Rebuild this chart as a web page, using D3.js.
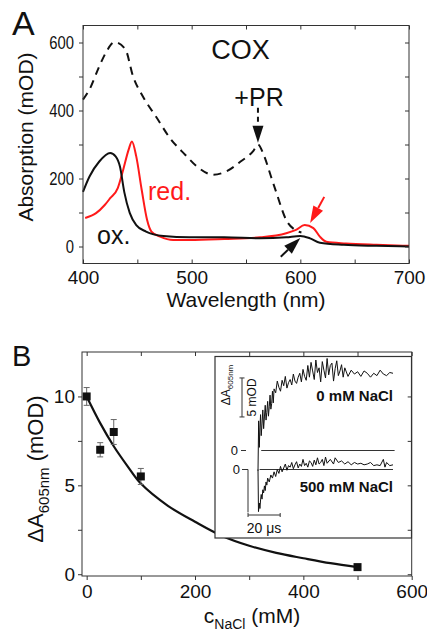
<!DOCTYPE html>
<html>
<head>
<meta charset="utf-8">
<script src="https://d3js.org/d3.v7.min.js"></script>
<style>
  body { margin: 0; background: #fff; }
  svg { font-family: "Liberation Sans", Arial, sans-serif; }
</style>
</head>
<body>
<svg id="fig" width="427" height="635"></svg>
<script>
// ---- panel A: absorption spectra [wavelength nm, mOD] ----
const specPR = [[400,432],[406,462],[415,530],[421,570],[429,601],[439,580],[446,501],[455,442],[468,378],[480,319],[494,270],[505,235],[520,211],[532,221],[545,250],[557,282],[561,300],[566,272],[573,206],[578,158],[587,78],[595,49],[601,41]];
const specOx = [[400,161],[406,206],[415,250],[425,275],[430,265],[434,235],[438,160],[443,99],[449,63],[458,44],[474,31],[498,27],[530,27],[563,24],[587,27],[600,31],[609,24],[618,11],[640,5],[670,2],[700,0]];
const specRed = [[402,84],[412,98],[420,122],[425,142],[432,172],[437,226],[442,285],[445,309],[449,265],[454,167],[459,78],[463,44],[471,29],[483,19],[498,19],[530,22],[563,27],[587,39],[596,49],[604,63],[612,54],[618,29],[624,14],[642,9],[670,5],[700,2]];
const aXticks = [400, 500, 600, 700];
const aXminor = [450, 550, 650];
const aYticks = [0, 200, 400, 600];
const aYminor = [100, 300, 500];

// ---- panel B: amplitude vs NaCl ----
const cNaCl = [0, 25, 50, 100, 500];
const dA605 = [10.0, 7.0, 8.0, 5.5, 0.4];
const dAerr = [0.5, 0.4, 0.7, 0.45, 0.1];
const fitC = [0, 25, 50, 75, 100, 150, 200, 250, 300, 350, 400, 450, 500];
const fitA = [10, 8.5, 7.2, 6.1, 5.1, 3.85, 2.95, 2.15, 1.6, 1.2, 0.9, 0.62, 0.4];
const bXticks = [0, 200, 400, 600];
const bXminor = [100, 300, 500];
const bYticks = [0, 5, 10];
const bYminor = [2.5, 7.5];

// ---- inset: transients [time us, mOD] ----
const t0mM = [0,0.4,0.8,1.2,1.6,2,2.5,3,3.5,4,4.5,5,5.5,6,6.5,7,7.5,8,8.5,9,9.5,10,11,12,13,14,15,16,17,18,19,20,21,22,23,24,25,26,27,28,29,30,31,32,33,34,35,36,37,38,39,40,41,42,43,44,45,46,47,48,49,50,51,52,53,54,56,58,60,62,64,66,68,70,72,74,76,78,80,82,84];
const v0mM = [-2.6,3.8,0.4,2.9,4.6,1.9,3.4,5.2,2.8,4.3,5.8,3.9,4.9,6.3,4.4,5.6,7.1,5.3,6.0,7.6,6.1,7.9,
  7.4,8.9,8.1,7.6,9.0,8.3,9.5,8.0,8.7,9.1,8.4,9.8,8.9,8.6,9.4,9.9,8.8,10.4,9.5,9.0,10.9,9.4,11.3,10.2,9.1,11.6,10.0,10.6,8.8,11.4,10.3,9.3,11.8,9.7,10.9,11.2,8.9,10.5,11.5,9.6,10.2,11.0,9.4,10.6,
  9.5,10.3,9.8,10.1,9.5,10.2,9.9,9.4,9.9,9.6,10.3,9.8,9.6,10.0,9.9];
const t500mM = [0,0.3,0.8,1.2,1.6,2,2.5,3,3.5,4,4.5,5,5.5,6,7,8,9,10,11,12,13,14,15,16,17,18,19,20,21,22,23,24,25,26,27,28,29,30,31,32,33,34,35,36,37,38,39,40,41,42,43,45,47,48,50,52,54,56,58,60,62,64,66,68,70,72,74,76,78,79,80,82,84];
const v500mM = [0,-5.4,-4.3,-5.0,-3.9,-3.2,-3.8,-2.6,-3.0,-2.1,-2.7,-1.6,-2.0,-1.1,
  -1.6,-0.7,-1.1,-0.3,-0.9,0.0,-0.5,0.4,-0.3,0.2,0.7,-0.1,0.5,0.3,0.9,0.1,0.6,1.0,0.2,0.7,0.4,1.3,0.5,0.8,0.3,1.1,0.9,0.4,1.2,0.6,1.5,0.7,0.9,1.3,0.5,1.6,0.8,
  1.3,0.7,1.5,0.9,1.1,0.7,1.0,0.6,0.9,0.7,0.8,0.6,0.7,0.9,0.5,0.6,0.5,1.3,0.3,0.9,0.5,0.6];

const svg = d3.select("#fig");
const ink = "#111";

// draws a boxed frame with ticks on all four sides
function frame(g, x, y, o) {
  const [x0, x1] = x.range();
  const [y0, y1] = y.range();
  g.append("rect").attr("x", x0).attr("y", y1).attr("width", x1 - x0).attr("height", y0 - y1)
    .attr("fill", "none").attr("stroke", "#333").attr("stroke-width", 1);
  const allX = o.xt.concat(o.xm), allY = o.yt.concat(o.ym);
  const clean = s => { s.select(".domain").remove(); s.attr("font-family", null).attr("font-size", null); };
  // bottom
  g.append("g").attr("transform", `translate(0,${y0})`)
    .call(d3.axisBottom(x).tickValues(allX).tickSize(o.bottomTick).tickFormat("")).call(clean);
  g.append("g").attr("transform", `translate(0,${y0})`)
    .call(d3.axisBottom(x).tickValues(o.xt).tickSize(0).tickPadding(o.xpad).tickFormat(d3.format("d"))).call(clean)
    .selectAll("text").attr("font-size", o.fs).attr("fill", ink);
  // top (inward)
  g.append("g").attr("transform", `translate(0,${y1})`)
    .call(d3.axisTop(x).tickValues(allX).tickSize(-4).tickFormat("")).call(clean);
  // left
  g.append("g").attr("transform", `translate(${x0},0)`)
    .call(d3.axisLeft(y).tickValues(allY).tickSize(4).tickFormat("")).call(clean);
  const sx = o.yScaleX || 1;
  g.append("g").attr("transform", `translate(${x0},0)`)
    .call(d3.axisLeft(y).tickValues(o.yt).tickSize(0).tickPadding(o.ypad).tickFormat(d3.format("d"))).call(clean)
    .selectAll("text").attr("font-size", o.fs).attr("fill", ink)
    .attr("x", -o.ypad / sx).attr("transform", `scale(${sx},1)`);
  // right (inward)
  g.append("g").attr("transform", `translate(${x1},0)`)
    .call(d3.axisRight(y).tickValues(allY).tickSize(-4).tickFormat("")).call(clean);
  g.selectAll(".tick line").attr("stroke", "#333");
}

// ================= panel A =================
const xA = d3.scaleLinear().domain([400, 700]).range([83, 409]);
const yA = d3.scaleLinear().domain([-50, 650]).range([263.5, 25.5]);
const gA = svg.append("g");
const lineA = d3.line().x(d => xA(d[0])).y(d => yA(d[1])).curve(d3.curveMonotoneX);

gA.append("path").attr("d", lineA(specPR)).attr("fill", "none").attr("stroke", ink)
  .attr("stroke-width", 2).attr("stroke-dasharray", "8,6");
gA.append("path").attr("d", lineA(specRed)).attr("fill", "none").attr("stroke", "#ff1a1a").attr("stroke-width", 2);
gA.append("path").attr("d", lineA(specOx)).attr("fill", "none").attr("stroke", ink).attr("stroke-width", 2);

frame(gA, xA, yA, { xt: aXticks, xm: aXminor, yt: aYticks, ym: aYminor, bottomTick: -4, fs: 19, xpad: 7, ypad: 9, yScaleX: 0.78 });

// arrows
function arrow(g, x1, y1, x2, y2, col, dash) {
  const ang = Math.atan2(y2 - y1, x2 - x1), L = 17, W = 5.5;
  const bx = x2 - L * Math.cos(ang), by = y2 - L * Math.sin(ang);
  g.append("line").attr("x1", x1).attr("y1", y1).attr("x2", bx).attr("y2", by)
    .attr("stroke", col).attr("stroke-width", 2).attr("stroke-dasharray", dash || null);
  const px = -Math.sin(ang) * W, py = Math.cos(ang) * W;
  g.append("path").attr("d", `M${x2},${y2}L${bx + px},${by + py}L${bx - px},${by - py}Z`).attr("fill", col);
}
arrow(gA, xA(561), yA(408), xA(561), yA(305), ink, "5,4");
arrow(gA, xA(622), yA(146), xA(609), yA(69), "#ff1a1a");
arrow(gA, xA(582), yA(-30), xA(600), yA(25), ink);

gA.append("text").attr("x", 12).attr("y", 35).attr("font-size", 34).attr("fill", ink).text("A");
gA.append("text").attr("x", xA(545)).attr("y", 59).attr("text-anchor", "middle").attr("font-size", 27).attr("fill", ink).text("COX");
gA.append("text").attr("x", xA(562)).attr("y", 106).attr("text-anchor", "middle").attr("font-size", 25).attr("fill", ink).text("+PR");
gA.append("text").attr("x", 148).attr("y", 200).attr("font-size", 25).attr("fill", "#ff1a1a").text("red.");
gA.append("text").attr("x", 97).attr("y", 244).attr("font-size", 25).attr("fill", ink).text("ox.");
gA.append("text").attr("x", 246).attr("y", 307).attr("text-anchor", "middle").attr("font-size", 21).attr("fill", ink).text("Wavelength (nm)");
gA.append("text").attr("transform", "translate(33,137) rotate(-90)").attr("text-anchor", "middle")
  .attr("font-size", 21).attr("fill", ink).text("Absorption (mOD)");

// ================= panel B =================
const xB = d3.scaleLinear().domain([-8.6, 600]).range([82, 411.7]);
const yB = d3.scaleLinear().domain([-0.1, 12.5]).range([576, 352]);
const gB = svg.append("g");

const fitLine = d3.line().x(d => xB(d[0])).y(d => yB(d[1])).curve(d3.curveCatmullRom);
gB.append("path").attr("d", fitLine(fitC.map((c, i) => [c, fitA[i]])))
  .attr("fill", "none").attr("stroke", ink).attr("stroke-width", 2.2);

const pts = cNaCl.map((c, i) => ({ c, a: dA605[i], e: dAerr[i] }));
const eb = gB.append("g").attr("stroke", "#666").attr("stroke-width", 1);
pts.forEach(p => {
  eb.append("line").attr("x1", xB(p.c)).attr("x2", xB(p.c)).attr("y1", yB(p.a - p.e)).attr("y2", yB(p.a + p.e));
  [p.a - p.e, p.a + p.e].forEach(v => eb.append("line").attr("x1", xB(p.c) - 3).attr("x2", xB(p.c) + 3).attr("y1", yB(v)).attr("y2", yB(v)));
});
gB.selectAll("rect.pt").data(pts).enter().append("rect").attr("class", "pt")
  .attr("x", d => xB(d.c) - 4).attr("y", d => yB(d.a) - 4).attr("width", 8).attr("height", 8).attr("fill", ink);

// inset
const gI = gB.append("g");
gI.append("rect").attr("x", 215).attr("y", 356.5).attr("width", 196.5).attr("height", 181.5)
  .attr("fill", "#fff").attr("stroke", "#333").attr("stroke-width", 1.2);
const tx = d3.scaleLinear().domain([0, 84]).range([258, 393]);
const vy1 = d3.scaleLinear().domain([0, 10]).range([450.5, 372.5]);
const vy2 = d3.scaleLinear().domain([0, 10]).range([469.5, 391.5]);
// baselines
gI.append("line").attr("x1", tx(2)).attr("x2", tx(85)).attr("y1", vy1(0)).attr("y2", vy1(0)).attr("stroke", "#333").attr("stroke-width", 1.2);
gI.append("line").attr("x1", tx(1)).attr("x2", tx(84)).attr("y1", vy2(0)).attr("y2", vy2(0)).attr("stroke", "#333").attr("stroke-width", 1.2);
const tr1 = d3.line().x((d, i) => tx(t0mM[i])).y(d => vy1(d));
const tr2 = d3.line().x((d, i) => tx(t500mM[i])).y(d => vy2(d));
gI.append("path").attr("d", tr1(v0mM)).attr("fill", "none").attr("stroke", ink).attr("stroke-width", 1);
gI.append("path").attr("d", tr2(v500mM)).attr("fill", "none").attr("stroke", ink).attr("stroke-width", 1);
// zero markers and scale bars
gI.append("text").attr("x", 238).attr("y", vy1(0) + 4.5).attr("text-anchor", "end").attr("font-size", 13).attr("fill", ink).text("0");
gI.append("line").attr("x1", 241).attr("x2", 246).attr("y1", vy1(0)).attr("y2", vy1(0)).attr("stroke", "#333");
gI.append("text").attr("x", 240).attr("y", vy2(0) + 4.5).attr("text-anchor", "end").attr("font-size", 13).attr("fill", ink).text("0");
gI.append("path").attr("d", `M242,${vy2(0)}H248V${vy2(-5.5)}`).attr("fill", "none").attr("stroke", "#333");
const sbx = 242;
gI.append("path").attr("d", `M${sbx - 2.5},${vy1(9.3)}H${sbx + 2.5}M${sbx},${vy1(9.3)}V${vy1(4.3)}M${sbx - 2.5},${vy1(4.3)}H${sbx + 2.5}`)
  .attr("fill", "none").attr("stroke", "#333");
gI.append("path").attr("d", `M${tx(-6.2)},515H${tx(13.8)}M${tx(-6.2)},513V517M${tx(13.8)},513V517`)
  .attr("fill", "none").attr("stroke", "#333");
gI.append("text").attr("x", tx(3.8)).attr("y", 533).attr("text-anchor", "middle").attr("font-size", 14).attr("fill", ink).text("20 μs");
gI.append("text").attr("transform", `translate(256,${vy1(6.8)}) rotate(-90)`).attr("text-anchor", "middle")
  .attr("font-size", 12).attr("fill", ink).text("5 mOD");
const il = gI.append("text").attr("transform", "translate(230,385) rotate(-90)").attr("text-anchor", "middle")
  .attr("font-size", 12).attr("fill", ink);
il.append("tspan").text("ΔA");
il.append("tspan").attr("font-size", 8).attr("dy", 3).text("605nm");
gI.append("text").attr("x", 393).attr("y", 401).attr("text-anchor", "end").attr("font-size", 15).attr("font-weight", "bold").attr("fill", ink).text("0 mM NaCl");
gI.append("text").attr("x", 393).attr("y", 492).attr("text-anchor", "end").attr("font-size", 15).attr("font-weight", "bold").attr("fill", ink).text("500 mM NaCl");

frame(gB, xB, yB, { xt: bXticks, xm: bXminor, yt: bYticks, ym: bYminor, bottomTick: 4, fs: 19, xpad: 9, ypad: 7 });

gB.append("text").attr("x", 12).attr("y", 366).attr("font-size", 29).attr("fill", ink).text("B");
const xl = gB.append("text").attr("x", 252).attr("y", 623).attr("text-anchor", "middle").attr("font-size", 21).attr("fill", ink);
xl.append("tspan").text("c");
xl.append("tspan").attr("font-size", 14).attr("dy", 6).text("NaCl");
xl.append("tspan").attr("dy", -6).text(" (mM)");
const yl = gB.append("text").attr("transform", "translate(43,469) rotate(-90)").attr("text-anchor", "middle")
  .attr("font-size", 22).attr("fill", ink);
yl.append("tspan").text("ΔA");
yl.append("tspan").attr("font-size", 15).attr("dy", 6).text("605nm");
yl.append("tspan").attr("dy", -6).text(" (mOD)");
</script>
</body>
</html>
